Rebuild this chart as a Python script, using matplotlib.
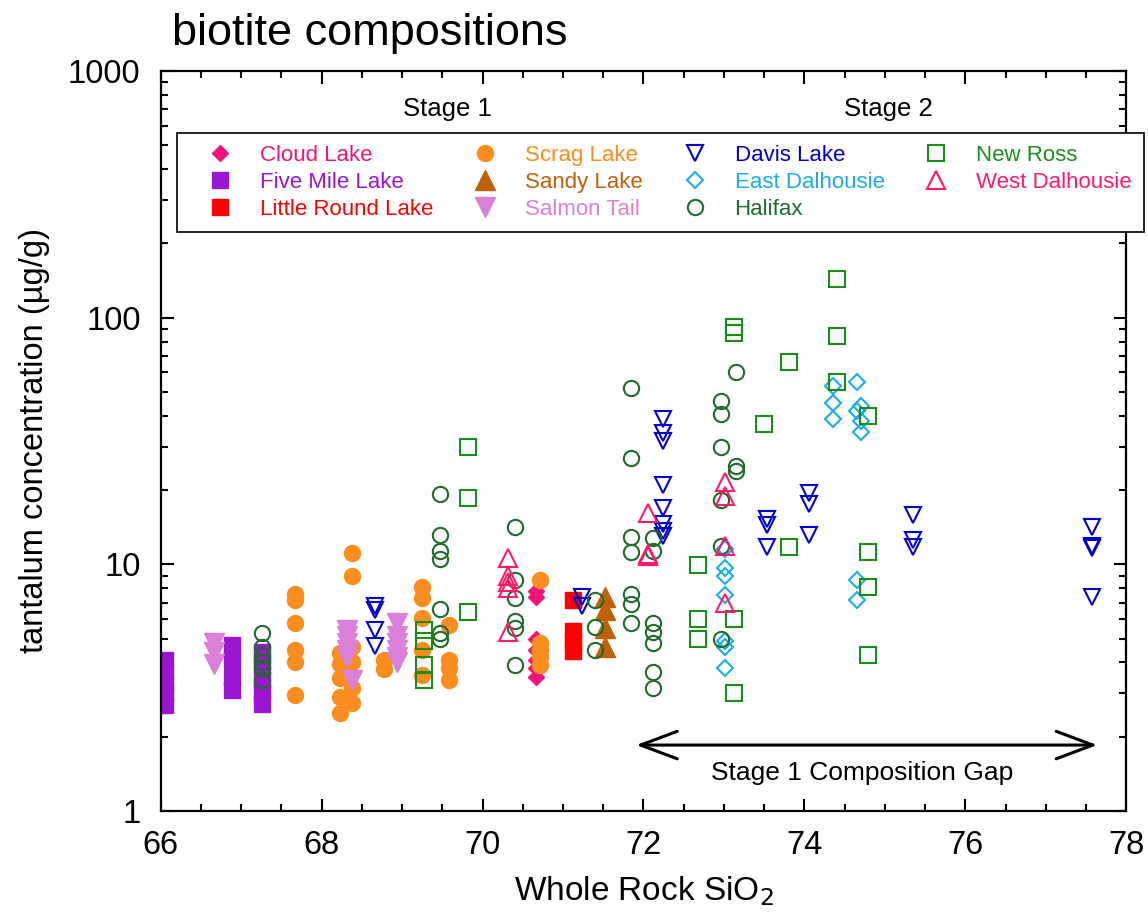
import matplotlib
matplotlib.use('Agg')
import matplotlib.pyplot as plt
from matplotlib.ticker import LogLocator, MultipleLocator, NullFormatter, FixedLocator

plt.rcParams['font.family'] = ['Liberation Sans', 'DejaVu Sans']

# biotite Ta vs whole rock SiO2, one pair of lists per pluton
cloud_x = [70.66, 70.66, 70.66, 70.66, 70.66, 70.66, 70.66]
cloud_y = [7.8, 7.4, 5.0, 4.5, 4.1, 3.8, 3.5]

five_x = [66.05, 66.05, 66.05, 66.05, 66.05, 66.89, 66.89, 66.89, 66.89,
          67.26, 67.26, 67.26, 67.26, 67.26]
five_y = [4.1, 3.7, 3.3, 3.0, 2.7, 4.7, 4.1, 3.5, 3.1, 4.4, 3.9, 3.4, 3.05, 2.72]

little_x = [71.13, 71.13, 71.13, 71.13]
little_y = [7.2, 5.35, 4.9, 4.45]

scrag_x = [67.67, 67.67, 67.67, 67.67, 67.67, 67.67,
           68.23, 68.23, 68.23, 68.23, 68.23,
           68.38, 68.38, 68.38, 68.38, 68.38, 68.38,
           68.78, 68.78,
           69.25, 69.25, 69.25, 69.25, 69.25,
           69.58, 69.58, 69.58, 69.58,
           70.72, 70.72, 70.72, 70.72, 70.72]
scrag_y = [7.6, 7.2, 5.8, 4.5, 4.0, 2.95,
           4.35, 3.95, 3.45, 2.9, 2.5,
           11.1, 9.0, 4.6, 4.0, 3.15, 2.75,
           4.1, 3.75,
           8.1, 7.3, 6.05, 4.5, 3.55,
           5.65, 4.1, 3.8, 3.4,
           8.6, 4.8, 4.5, 4.2, 3.9]

sandy_x = [71.52, 71.52, 71.52, 71.52]
sandy_y = [7.4, 6.5, 5.5, 4.6]

salmon_x = [66.66, 66.66, 66.66,
            68.32, 68.32, 68.32, 68.32, 68.32, 68.38,
            68.94, 68.94, 68.94, 68.94, 68.94, 68.94]
salmon_y = [4.8, 4.4, 3.95,
            5.4, 5.1, 4.8, 4.5, 4.2, 3.4,
            5.8, 5.1, 4.8, 4.5, 4.2, 4.0]

davis_x = [68.66, 68.66, 68.66, 68.66,
           71.24, 71.24,
           72.24, 72.24, 72.24, 72.24, 72.24, 72.24, 72.24, 72.24,
           73.54, 73.54, 73.54,
           74.06, 74.06, 74.06,
           75.35, 75.35, 75.35,
           77.58, 77.58, 77.58, 77.58]
davis_y = [6.8, 6.5, 5.4, 4.65,
           7.4, 6.8,
           39, 34, 31.5, 21, 16.9, 14.6, 13.7, 13.0,
           15.3, 14.4, 11.7,
           19.4, 17.6, 13.1,
           15.8, 12.5, 11.7,
           14.2, 11.9, 11.6, 7.4]

eastdal_x = [73.01, 73.01, 73.01, 73.01, 73.01, 73.01, 73.01,
             74.36, 74.36, 74.36,
             74.65, 74.65, 74.65, 74.65,
             74.70, 74.70, 74.70]
eastdal_y = [11.5, 9.7, 9.0, 7.5, 4.9, 4.6, 3.8,
             53, 45, 39,
             55, 42, 8.6, 7.2,
             44, 38, 34.5]

halifax_x = [67.26, 67.26, 67.26, 67.26, 67.26, 67.26,
             69.47, 69.47, 69.47, 69.47, 69.47, 69.47, 69.47,
             70.40, 70.40, 70.40, 70.40, 70.40, 70.40,
             71.40, 71.40, 71.40,
             71.84, 71.84, 71.84, 71.84, 71.84, 71.84, 71.84,
             72.12, 72.12, 72.12, 72.12, 72.12, 72.12, 72.12,
             72.97, 72.97, 72.97, 72.97, 72.97, 72.97,
             73.15, 73.15, 73.15]
halifax_y = [5.25, 4.6, 4.3, 4.0, 3.8, 3.4,
             19.2, 13.1, 11.3, 10.5, 6.6, 5.25, 5.0,
             14.2, 8.6, 7.3, 5.9, 5.5, 3.9,
             7.15, 5.55, 4.5,
             52, 27, 12.9, 11.2, 7.6, 6.9, 5.8,
             12.8, 11.3, 5.8, 5.3, 4.8, 3.65, 3.15,
             46, 40.5, 30, 18.2, 11.9, 5.0,
             60, 25, 23.8]

newross_x = [69.27, 69.27, 69.27, 69.27,
             69.82, 69.82, 69.82,
             72.68, 72.68, 72.68,
             73.12, 73.12, 73.12, 73.12,
             73.50,
             73.81, 73.81,
             74.41, 74.41, 74.41,
             74.79, 74.79, 74.79, 74.79]
newross_y = [5.4, 4.9, 3.9, 3.4,
             29.8, 18.6, 6.4,
             9.9, 6.0, 4.97,
             92, 87, 6.0, 3.0,
             37.2,
             65.8, 11.7,
             144, 84.6, 54.6,
             40, 11.2, 8.1, 4.3]

westdal_x = [70.32, 70.32, 70.32, 70.32, 70.32,
             72.06, 72.06, 72.06,
             73.01, 73.01, 73.01, 73.01]
westdal_y = [10.6, 9.0, 8.5, 8.0, 5.3,
             16.1, 11.0, 10.8,
             21.5, 19.0, 11.9, 7.0]

fig = plt.figure(figsize=(11.48, 9.15), dpi=100)
ax = fig.add_axes([0.14, 0.1137, 0.841, 0.8087])

# (label, x, y, marker, size, colour, filled)
series = [
    ('Cloud Lake', cloud_x, cloud_y, 'D', 8.5, '#F0157A', True),
    ('Five Mile Lake', five_x, five_y, 's', 11.5, '#9A16D0', True),
    ('Little Round Lake', little_x, little_y, 's', 11.5, '#FF0000', True),
    ('Scrag Lake', scrag_x, scrag_y, 'o', 11.5, '#FB8C1E', True),
    ('Sandy Lake', sandy_x, sandy_y, '^', 14.5, '#C0600A', True),
    ('Salmon Tail', salmon_x, salmon_y, 'v', 15, '#DA80D8', True),
    ('Davis Lake', davis_x, davis_y, 'v', 11.5, '#0000CC', False),
    ('East Dalhousie', eastdal_x, eastdal_y, 'D', 8, '#1AACE8', False),
    ('Halifax', halifax_x, halifax_y, 'o', 11, '#1E6B2A', False),
    ('New Ross', newross_x, newross_y, 's', 11, '#1A8C1A', False),
    ('West Dalhousie', westdal_x, westdal_y, '^', 13.5, '#FF1A6E', False),
]

colors = []
for lab, xs, ys, m, ms, c, filled in series:
    if filled:
        ax.plot(xs, ys, ls='none', marker=m, ms=ms, color=c, mec=c, label=lab)
    else:
        ax.plot(xs, ys, ls='none', marker=m, ms=ms, mfc='none', mec=c,
                mew=1.5, label=lab)
    colors.append(c)

ax.set_yscale('log')
ax.set_xlim(66, 78)
ax.set_ylim(1, 1000)
ax.xaxis.set_major_locator(MultipleLocator(2))
ax.xaxis.set_minor_locator(MultipleLocator(0.5))
ax.yaxis.set_major_locator(FixedLocator([1, 10, 100, 1000]))
ax.yaxis.set_major_formatter(plt.FuncFormatter(lambda v, p: '%d' % v))
ax.yaxis.set_minor_locator(LogLocator(base=10, subs=range(2, 10)))
ax.yaxis.set_minor_formatter(NullFormatter())

for s in ax.spines.values():
    s.set_linewidth(1.6)
ax.tick_params(which='both', direction='in', top=True, right=True, width=1.5)
ax.tick_params(which='major', length=9, labelsize=23.5)
ax.tick_params(axis='x', which='major', pad=14)
ax.tick_params(axis='y', which='major', pad=14.5)
ax.tick_params(which='minor', length=5)

ax.set_xlabel('Whole Rock SiO$_2$', fontsize=24, labelpad=9)
ax.set_ylabel('tantalum concentration (µg/g)', fontsize=23.5, labelpad=13)

fig.text(0.15, 0.951, 'biotite compositions', fontsize=32.5, va='baseline')

ax.text(0.297, 0.949, 'Stage 1', transform=ax.transAxes, fontsize=18.5,
        ha='center', va='center')
ax.text(0.754, 0.949, 'Stage 2', transform=ax.transAxes, fontsize=18.5,
        ha='center', va='center')

ax.annotate('', xy=(77.64, 1.85), xytext=(71.91, 1.85),
            arrowprops=dict(arrowstyle='<->, head_length=1.2, head_width=0.45',
                            lw=2.2, color='black', shrinkA=0, shrinkB=0,
                            mutation_scale=22))
ax.text(74.72, 1.43, 'Stage 1 Composition Gap', fontsize=19, ha='center',
        va='center')

leg = ax.legend(loc='upper left', bbox_to_anchor=(0.0169, 0.9162), ncol=4,
                fontsize=16, frameon=True, fancybox=False, edgecolor='black',
                framealpha=1, borderaxespad=0, borderpad=0.55, numpoints=1,
                handlelength=2.8, handletextpad=0.4, columnspacing=0.92,
                labelspacing=0.26)
leg.get_frame().set_linewidth(1.2)
for t, c in zip(leg.get_texts(), colors):
    t.set_color(c)

fig.savefig('out.png', dpi=100)
